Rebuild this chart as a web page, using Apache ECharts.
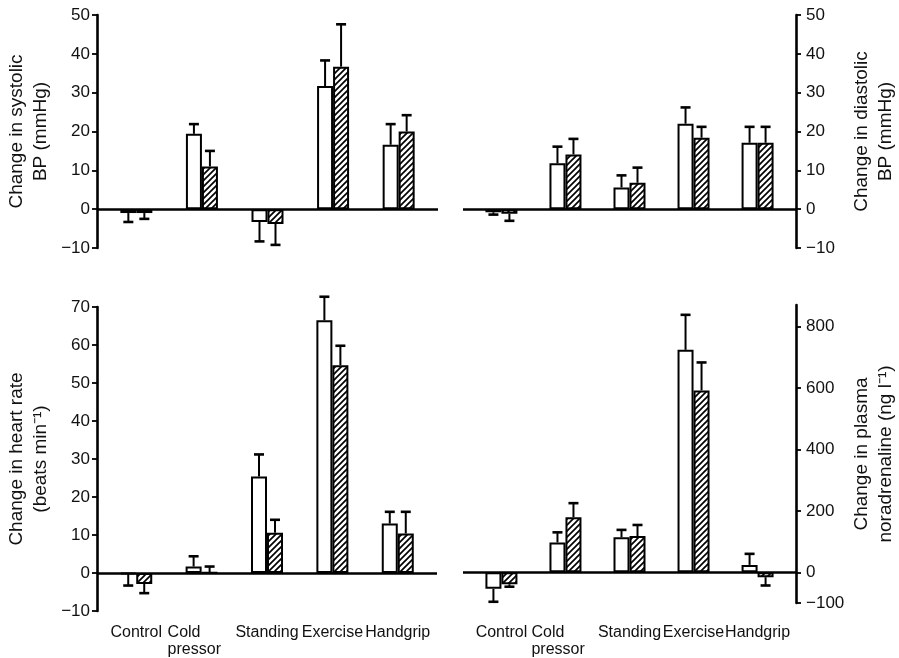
<!DOCTYPE html>
<html>
<head>
<meta charset="utf-8">
<script src="https://cdn.jsdelivr.net/npm/echarts@6/dist/echarts.min.js"></script>
<style>
html,body{margin:0;padding:0;background:#fff;}
#c{width:899px;height:658px;}
</style>
</head>
<body>
<div id="c"></div>
<script>
// ---- data ----
const categories = ['Control', 'Cold\npressor', 'Standing', 'Exercise', 'Handgrip'];

// systolic BP change (mmHg): open bars / hatched bars, with SEM
const sysOpen = [-1.0, 19.4, -3.3, 31.7, 16.6];
const sysOpenSem = [2.3, 2.5, 5.0, 6.6, 5.3];
const sysHatch = [-1.0, 11.0, -3.8, 36.7, 20.0];
const sysHatchSem = [1.5, 4.0, 5.4, 10.9, 4.2];

// diastolic BP change (mmHg)
const diaOpen = [-0.8, 11.8, 5.6, 22.0, 17.1];
const diaOpenSem = [0.6, 4.3, 3.1, 4.2, 4.1];
const diaHatch = [-1.2, 14.1, 6.8, 18.4, 17.1];
const diaHatchSem = [1.8, 4.0, 3.9, 2.8, 4.1];

// heart rate change (beats/min)
const hrOpen = [-0.3, 1.7, 25.4, 66.5, 13.0];
const hrOpenSem = [3.0, 2.7, 5.8, 6.2, 3.1];
const hrHatch = [-2.9, 0.1, 10.6, 54.7, 10.4];
const hrHatchSem = [2.4, 1.6, 3.4, 5.1, 5.7];

// plasma noradrenaline change (ng/l)
const naOpen = [-54, 97, 114, 724, 24];
const naOpenSem = [42, 33, 24, 114, 36];
const naHatch = [-39, 179, 118, 592, -16];
const naHatchSem = [8, 46, 36, 91, 27];

// axis ticks
const bpTicks = [-10, 0, 10, 20, 30, 40, 50];
const hrTicks = [-10, 0, 10, 20, 30, 40, 50, 60, 70];
const naTicks = [-100, 0, 200, 400, 600, 800];

// ---- helpers ----
function hatchPattern() {
  const c = document.createElement('canvas');
  c.width = 6; c.height = 6;
  const g = c.getContext('2d');
  g.fillStyle = '#fff'; g.fillRect(0, 0, 6, 6);
  g.strokeStyle = '#000'; g.lineWidth = 1.7;
  g.beginPath();
  g.moveTo(-1, 7); g.lineTo(7, -1);
  g.moveTo(-1, 1); g.lineTo(1, -1);
  g.moveTo(5, 7); g.lineTo(7, 5);
  g.stroke();
  return c;
}
const hatch = { image: hatchPattern(), repeat: 'repeat' };
const FONT = '"Liberation Sans", Arial, sans-serif';
const fmtNum = v => (v < 0 ? '\u2212' + Math.abs(v) : String(v));

function pairs(vals) { return vals.map((v, i) => [i, v]); }
function errData(vals, sem) { return vals.map((v, i) => [i, v, v < 0 ? v - sem[i] : v + sem[i]]); }

function errSeries(idx, vals, sem, off) {
  return {
    type: 'custom', xAxisIndex: idx, yAxisIndex: idx, z: 3,
    data: errData(vals, sem),
    renderItem: function (params, api) {
      const x = api.value(0), v = api.value(1), e = api.value(2);
      const p0 = api.coord([x, v]);
      const p1 = api.coord([x, e]);
      const cx = p0[0] + off;
      return {
        type: 'group',
        children: [
          { type: 'line', shape: { x1: cx, y1: p0[1], x2: cx, y2: p1[1] }, style: { stroke: '#000', lineWidth: 2 } },
          { type: 'line', shape: { x1: cx - 5, y1: p1[1], x2: cx + 5, y2: p1[1] }, style: { stroke: '#000', lineWidth: 2.6 } }
        ]
      };
    }
  };
}

const grids = [
  { left: 97, top: 15, width: 341, height: 233 },
  { left: 463, top: 15, width: 338, height: 233 },
  { left: 97, top: 307, width: 340, height: 306 },
  { left: 463, top: 305, width: 337, height: 300 }
];

const yDefs = [
  { min: -10, max: 50, ticks: bpTicks, pos: 'left', name: 'Change in systolic\nBP (mmHg)' },
  { min: -10, max: 50, ticks: bpTicks, pos: 'right', name: 'Change in diastolic\nBP (mmHg)' },
  { min: -10, max: 70, ticks: hrTicks, pos: 'left', name: 'Change in heart rate\n(beats min\u207B\u00B9)' },
  { min: -100, max: 870, ticks: naTicks, pos: 'right', name: 'Change in plasma\nnoradrenaline (ng l\u207B\u00B9)' }
];

const xAxes = grids.map((g, i) => ({
  type: 'value', gridIndex: i, min: -0.6, max: 4.6,
  axisLine: { show: false, onZero: false },
  axisTick: { show: false },
  splitLine: { show: false },
  axisLabel: {
    show: i >= 2,
    customValues: [0, 1, 2, 3, 4],
    margin: i === 3 ? 21 : 13,
    color: '#111', fontFamily: FONT, fontSize: 16, lineHeight: 17,
    formatter: v => {
      const c = categories[Math.round(v)];
      if (c.indexOf('\n') >= 0) return c.split('\n').map(s => '{l|' + s + '}').join('\n');
      return c;
    },
    rich: { l: { align: 'left', width: 68, fontFamily: FONT, fontSize: 16, lineHeight: 17, color: '#111' } }
  }
}));

const yAxes = yDefs.map((d, i) => ({
  type: 'value', gridIndex: i, min: d.min, max: d.max, position: d.pos,
  axisLine: { show: true, onZero: false, lineStyle: { color: '#000', width: 2.6 } },
  axisTick: { show: true, length: 5, customValues: d.ticks, lineStyle: { color: '#000', width: 1.8 } },
  axisLabel: { customValues: d.ticks, formatter: fmtNum, color: '#111', fontFamily: FONT, fontSize: 17, margin: d.pos === 'left' ? 7 : 10 },
  splitLine: { show: false },
  name: d.name, nameLocation: 'middle', nameRotate: 90,
  nameGap: d.pos === 'left' ? 44 : 54,
  nameTextStyle: { color: '#111', fontFamily: FONT, fontSize: 19, lineHeight: 24 }
}));

const panelData = [
  [sysOpen, sysOpenSem, sysHatch, sysHatchSem],
  [diaOpen, diaOpenSem, diaHatch, diaHatchSem],
  [hrOpen, hrOpenSem, hrHatch, hrHatchSem],
  [naOpen, naOpenSem, naHatch, naHatchSem]
];

const series = [];
panelData.forEach((p, i) => {
  series.push({
    type: 'bar', xAxisIndex: i, yAxisIndex: i, barWidth: 16, barGap: '0%',
    data: pairs(p[0]),
    itemStyle: { color: '#fff', borderColor: '#000', borderWidth: 2 },
    markLine: {
      silent: true, symbol: 'none', label: { show: false },
      lineStyle: { color: '#000', width: 2.6, type: 'solid' },
      data: [{ yAxis: 0 }]
    }
  });
  series.push({
    type: 'bar', xAxisIndex: i, yAxisIndex: i, barWidth: 16, barGap: '0%',
    data: pairs(p[2]),
    itemStyle: { color: hatch, borderColor: '#000', borderWidth: 2 }
  });
  series.push(errSeries(i, p[0], p[1], -8));
  series.push(errSeries(i, p[2], p[3], 8));
});

const chart = echarts.init(document.getElementById('c'), null, { renderer: 'canvas' });
chart.setOption({
  backgroundColor: '#fff',
  animation: false,
  grid: grids,
  xAxis: xAxes,
  yAxis: yAxes,
  series: series
});
</script>
</body>
</html>
